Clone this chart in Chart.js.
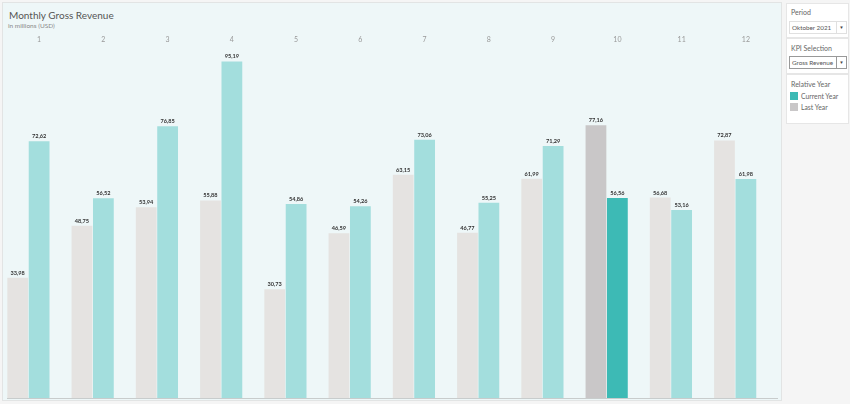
<!DOCTYPE html>
<html>
<head>
<meta charset="utf-8">
<script src="https://cdn.jsdelivr.net/npm/chart.js@4.4.0/dist/chart.umd.min.js"></script>
<style>
  body { margin: 0; width: 850px; height: 404px; background: #f5f5f5; font-family: Lato, "Noto Sans", sans-serif; overflow: hidden; position: relative; }
  #panel { position: absolute; left: 2px; top: 2px; width: 778px; height: 397px; background: #eef7f8; border: 1px solid #e2e4e4; }
  #title { position: absolute; left: 6px; top: 6px; font-size: 10px; color: #555; }
  #subtitle { position: absolute; left: 5px; top: 19px; font-size: 6.5px; color: #888; }
  #wrap { position: absolute; left: 4px; top: 27px; width: 771px; height: 369px; }
  .box { position: absolute; left: 786px; width: 61px; background: #fff; border: 1px solid #e6e6e6; }
  .lbl { position: absolute; left: 4px; font-size: 7px; color: #666; }
  .dd { position: absolute; left: 2px; width: 54px; height: 11px; border: 1px solid #e0e0e0; font-size: 6.3px; color: #555; line-height: 11px; padding-left: 2px; box-sizing: content-box; }
  .dd span { position: absolute; right: 0; top: 0; width: 9px; height: 11px; border-left: 1px solid #e0e0e0; text-align: center; font-size: 4.5px; color: #444; }
  .dark { border-color: #999; }
  .leg { position: absolute; left: 3px; font-size: 6.8px; color: #666; }
  .leg i { display: inline-block; width: 8px; height: 8px; vertical-align: -1px; margin-right: 3px; }
</style>
</head>
<body>
<div id="panel">
  <div id="title">Monthly Gross Revenue</div>
  <div id="subtitle">in millions (USD)</div>
  <div id="wrap"><canvas id="revenueChart"></canvas></div>
</div>

<div class="box" style="top:3px;height:33px;">
  <div class="lbl" style="top:4px;">Period</div>
  <div class="dd" style="top:17px;">Oktober 2021<span>&#9660;</span></div>
</div>
<div class="box" style="top:38px;height:34px;">
  <div class="lbl" style="top:5px;">KPI Selection</div>
  <div class="dd dark" style="top:17px;">Gross Revenue<span style="border-left-color:#999">&#9660;</span></div>
</div>
<div class="box" style="top:74px;height:48px;">
  <div class="lbl" style="top:5px;">Relative Year</div>
  <div class="leg" style="top:17px;"><i style="background:#3dbab5"></i>Current Year</div>
  <div class="leg" style="top:28px;"><i style="background:#c9c7c8"></i>Last Year</div>
</div>

<script>
const months = ['1', '2', '3', '4', '5', '6', '7', '8', '9', '10', '11', '12'];
const lastYear = [33.98, 48.75, 53.94, 55.88, 30.73, 46.59, 63.15, 46.77, 61.99, 77.16, 56.68, 72.87];
const currentYear = [72.62, 56.52, 76.85, 95.19, 54.86, 54.26, 73.06, 55.25, 71.29, 56.56, 53.16, 61.98];
const selectedMonth = 9; // Oktober

const lastColors = months.map((m, i) => i === selectedMonth ? '#c9c7c8' : '#e5e3e1');
const currentColors = months.map((m, i) => i === selectedMonth ? '#3dbab5' : '#a3dedd');

// labels above each bar, drawn from the bar elements
const valueLabels = {
  id: 'valueLabels',
  afterDatasetsDraw(chart) {
    const ctx = chart.ctx;
    ctx.save();
    ctx.font = 'bold 5.6px Lato, sans-serif';
    ctx.fillStyle = '#333';
    ctx.textAlign = 'center';
    ctx.textBaseline = 'bottom';
    [0, 1].forEach(di => {
      const meta = chart.getDatasetMeta(di);
      meta.data.forEach((bar, i) => {
        const v = chart.data.datasets[di].data[i];
        ctx.fillText(v.toFixed(2).replace('.', ','), bar.x, bar.y - 2);
      });
    });
    ctx.restore();
  }
};

new Chart(document.getElementById('revenueChart'), {
  type: 'bar',
  data: {
    labels: months,
    datasets: [
      { label: 'Last Year', data: lastYear, backgroundColor: lastColors, barPercentage: 0.97, categoryPercentage: 1 },
      { label: 'Current Year', data: currentYear, backgroundColor: currentColors, barPercentage: 0.97, categoryPercentage: 1 },
      { label: '', data: months.map(() => null), barPercentage: 0.97, categoryPercentage: 1 }
    ]
  },
  options: {
    responsive: true,
    maintainAspectRatio: false,
    animation: false,
    layout: { padding: 0 },
    plugins: {
      legend: { display: false },
      tooltip: { enabled: false }
    },
    scales: {
      x: {
        position: 'top',
        grid: { display: false, drawTicks: false },
        border: { display: false },
        ticks: { color: '#999', font: { size: 7, family: 'Lato' }, padding: 4 },
        afterFit: s => { s.height = 18; }
      },
      xb: {
        type: 'category',
        labels: months,
        position: 'bottom',
        grid: { display: false, drawTicks: false },
        border: { display: true, color: '#c8cccc' },
        ticks: { display: false },
        afterFit: s => { s.height = 1; }
      },
      y: {
        display: false,
        min: 0,
        max: 99
      }
    }
  },
  plugins: [valueLabels]
});
</script>
</body>
</html>
